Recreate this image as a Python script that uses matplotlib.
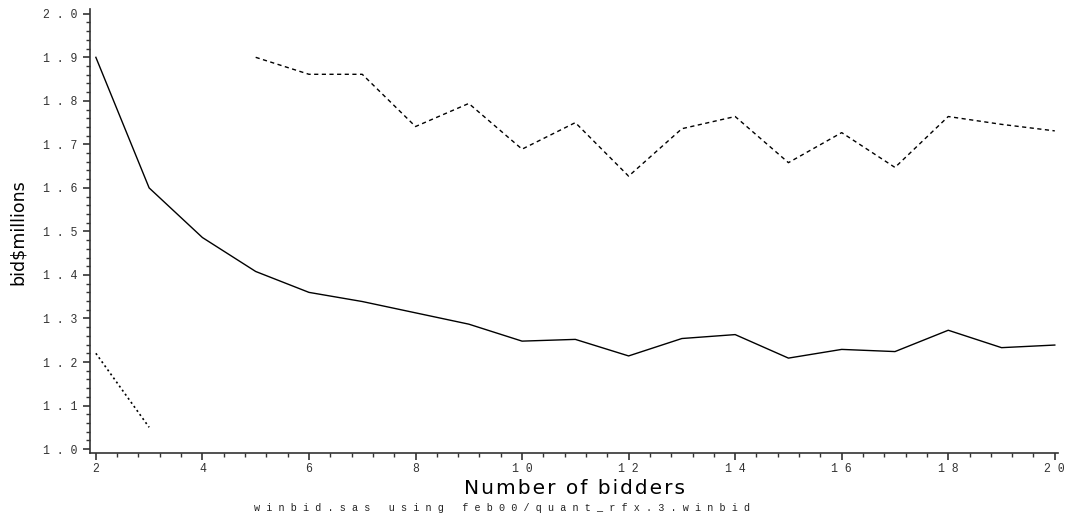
import numpy as np
import matplotlib
matplotlib.use("Agg")
import matplotlib.pyplot as plt
from matplotlib.ticker import MultipleLocator, FixedLocator, FuncFormatter

# Number of bidders and winning-bid summaries ($ millions)
bidders = [2, 3, 4, 5, 6, 7, 8, 9, 10, 11, 12, 13, 14, 15, 16, 17, 18, 19, 20]
mean_bid = [1.900, 1.600, 1.486, 1.408, 1.360, 1.339, 1.313, 1.287, 1.248,
            1.252, 1.214, 1.254, 1.263, 1.209, 1.229, 1.224, 1.273, 1.233, 1.239]
upper_bidders = [5, 6, 7, 8, 9, 10, 11, 12, 13, 14, 15, 16, 17, 18, 19, 20]
upper_bid = [1.900, 1.861, 1.861, 1.741, 1.794, 1.689, 1.750, 1.627, 1.736,
             1.764, 1.658, 1.727, 1.647, 1.764, 1.746, 1.731]
lower_bidders = [2, 3]
lower_bid = [1.220, 1.050]

x_ticks = [2, 4, 6, 8, 10, 12, 14, 16, 18, 20]
y_ticks = [1.0, 1.1, 1.2, 1.3, 1.4, 1.5, 1.6, 1.7, 1.8, 1.9, 2.0]

mono = ["Liberation Mono", "DejaVu Sans Mono"]


def spaced(s, gap=" "):
    return gap.join(s)


fig = plt.figure(figsize=(10.66, 5.16), dpi=100)
ax = fig.add_axes([90 / 1066, 1 - 453 / 516, 968 / 1066, 444 / 516])

ax.plot(bidders, mean_bid, color="black", lw=1.0)
ax.plot(upper_bidders, upper_bid, color="black", lw=1.0, ls=(0, (3, 2.5)))
ax.plot(lower_bidders, lower_bid, color="black", lw=1.2, ls=(0, (1.2, 1.8)))

ax.set_xlim(1.89, 20.06)
ax.set_ylim(0.991, 2.011)

ax.xaxis.set_major_locator(FixedLocator(x_ticks))
ax.xaxis.set_minor_locator(MultipleLocator(0.4))
ax.yaxis.set_major_locator(FixedLocator(y_ticks))
ax.yaxis.set_minor_locator(MultipleLocator(0.02))
ax.xaxis.set_major_formatter(FuncFormatter(lambda v, p: spaced(f"{v:.0f}")))
ax.yaxis.set_major_formatter(FuncFormatter(lambda v, p: spaced(f"{v:.1f}")))

for s in ("top", "right"):
    ax.spines[s].set_visible(False)
for s in ("left", "bottom"):
    ax.spines[s].set_linewidth(1.2)
    ax.spines[s].set_color("#333333")

ax.tick_params(which="major", direction="out", length=5, width=1.2,
               color="#333333", labelsize=8.3, labelcolor="#333333")
ax.tick_params(axis="x", which="major", pad=2)
ax.tick_params(axis="y", which="major", pad=4)
ax.tick_params(which="minor", direction="out", length=3, width=1.0,
               color="#333333")
for lab in ax.get_xticklabels() + ax.get_yticklabels():
    lab.set_family(mono)

fig.text(18 / 1066, 1 - 232 / 516, "bid$millions", rotation=90,
         ha="center", va="center", fontsize=12.5,
         family=["Liberation Sans Narrow", "DejaVu Sans"])
fig.text(574 / 1066, 1 - 489 / 516, spaced("Number of bidders", "\u200a"),
         ha="center", va="center", fontsize=14.5, family=["DejaVu Sans"])
fig.text(502 / 1066, 1 - 508 / 516,
         "   ".join(spaced(w) for w in "winbid.sas using feb00/quant_rfx.3.winbid".split()),
         ha="center", va="center", fontsize=7.3, family=mono, color="#222222")

fig.savefig("out.png", dpi=100)
